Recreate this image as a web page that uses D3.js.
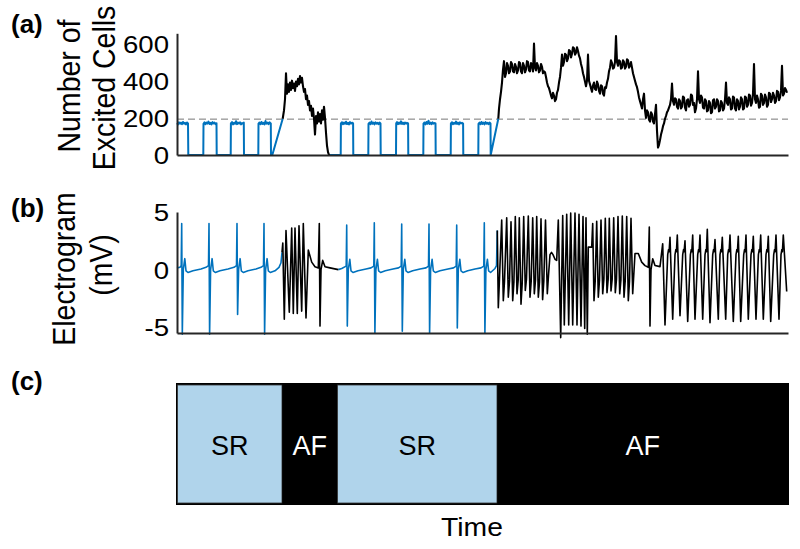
<!DOCTYPE html>
<html><head><meta charset="utf-8">
<script src="https://cdn.jsdelivr.net/npm/d3@7"></script>
<style>
body{margin:0;background:#fff}
svg{display:block}
text{font-family:"Liberation Sans",Arial,Helvetica,sans-serif;fill:#000}
</style>
</head><body>
<svg id="chart" width="800" height="549"></svg>
<script>
// ---------- DATA (time in arbitrary units, 0..611) ----------
const cellTicks = [0, 200, 400, 600];
const egmTicks = [-5, 0, 5];
const threshold = 193;

// Panel (a): number of excited cells
const srA1 = [[0,172],[1,165],[2,176],[3,168],[4,174],[5,166],[6,178],[7,169],[8,173],[9,165],[10,175],[11,170],[11.3,0],
[26.3,0],[26.5,168],[27.5,176],[28.5,166],[29.5,174],[30.5,169],[31.5,180],[32.5,167],[33.5,173],[34.5,165],[35.5,177],[36.5,170],[37.5,174],[38.5,166],[39.5,171],[39.7,0],
[53.7,0],[53.9,170],[55,177],[56,165],[57,173],[58,168],[59,182],[60,166],[61,174],[62,169],[63,176],[64,165],[65,172],[66,168],[66.8,174],[67,0],
[81.3,0],[81.5,169],[82.5,175],[83.5,166],[84.5,178],[85.5,167],[86.5,173],[87.5,165],[88.5,183],[89.5,169],[90.5,174],[91.5,166],[92.5,176],[93.8,170],[94,0],
[95.3,0],[105.7,195]];
const afA1 = [[105.7,195],[107,240],[108,300],[109,440],[110,330],[111,380],[112,340],[113,390],[114,350],[115,400],[116,360],[117,385],[118,345],[119,395],[120,370],[121,410],[122,380],[123,425],[124,390],[125,415],[126,370],[127,340],[128,355],[129,300],[130,320],[131,270],[132,290],[133,240],[134,265],[135,210],[136,250],[137,195],[138,110],[139,210],[140,170],[141,230],[142,180],[143,220],[144,170],[145,240],[146,190],[147,260],[148,200],[149,120],[150,50],[151,15],[152,0],[153,0]];
const srA2 = [[153,0],[163.7,0],[163.9,170],[165,176],[166,166],[167,174],[168,168],[169,179],[170,167],[171,173],[172,165],[173,177],[174,169],[175,174],[176.1,170],[176.3,0],
[191.3,0],[191.5,168],[192.5,175],[193.5,166],[194.5,180],[195.5,168],[196.5,174],[197.5,165],[198.5,176],[199.5,169],[200.5,173],[201.5,166],[202.5,175],[203.5,170],[203.7,0],
[219,0],[219.2,171],[220,177],[221,166],[222,174],[223,168],[224,181],[225,167],[226,174],[227,166],[228,175],[229,169],[230,173],[231.1,170],[231.3,0],
[246.3,0],[246.5,169],[247.5,175],[248.5,165],[249.5,178],[250.5,168],[251.5,184],[252.5,167],[253.5,174],[254.5,166],[255.5,176],[256.5,169],[257.5,172],[258.5,170],[258.7,0],
[273.7,0],[273.9,170],[275,176],[276,166],[277,173],[278,168],[279,180],[280,167],[281,174],[282,165],[283,176],[284,170],[285,173],[286.1,169],[286.3,0],
[301.3,0],[301.5,168],[302.5,175],[303.5,166],[304.5,178],[305.5,167],[306.5,174],[307.5,165],[308.5,177],[309.5,169],[310.5,173],[311.5,166],[312.5,175],[313.5,170],[313.7,0],
[321.3,195]];
const afA2 = [[321.3,195],[322,250],[323,300],[324,340],[325,390],[326,460],[327,505],[328,420],[329,440],[330,495],[331,480],[332,440],[333,450],[334,500],[335,490],[336,450],[337,445],[338,490],[339,475],[340,440],
[341,455],[342,500],[343,495],[344,450],[345,440],[346,495],[347,480],[348,445],[349,460],[350,505],[351,500],[352,455],[353,450],[354,495],[355,485],[356,450],[357,600],[358,470],[359,455],[360,495],
[361,480],[362,445],[363,455],[364,490],[365,475],[366,440],[367,450],[368,445],[369,420],[370,390],[371,370],[372,360],[373,340],[374,320],[375,305],[376,335],[377,320],[378,290],[379,300],[380,335],
[381,350],[382,390],[383,420],[384,470],[385,540],[386,480],[387,500],[388,545],[389,540],[390,505],[391,520],[392,565],[393,560],[394,525],[395,545],[396,580],[397,575],[398,540],[399,550],[400,580],
[401,560],[402,535],[403,520],[404,490],[405,470],[406,440],[407,420],[408,395],[409,370],[410,400],[411,540],[412,400],[413,380],[414,360],[415,340],[416,375],[417,390],[418,355],[419,350],[420,395],
[421,380],[422,345],[423,330],[424,375],[425,370],[426,330],[427,320],[428,365],[429,360],[430,390],[431,410],[432,450],[433,470],[434,510],[435,495],[436,465],[437,470],[438,500],[439,640],[440,500],
[441,480],[442,510],[443,505],[444,465],[445,470],[446,510],[447,500],[448,465],[449,475],[450,515],[451,510],[452,470],[453,480],[454,500],[455,470],[456,440],[457,420],[458,400],[459,380],[460,365],
[461,340],[462,310],[463,290],[464,270],[465,250],[466,300],[467,330],[468,240],[469,200],[470,240],[471,230],[472,190],[473,180],[474,230],[475,220],[476,180],[477,170],[478,220],[479,270],[480,130],
[481,40],[482,55],[483,80],[484,110],[485,130],[486,155],[487,170],[488,195],[489,210],[490,230],[491,240],[492,255],[493,270],[494,300],[495,385],[496,290],[497,270],[498,305],[499,300],[500,260],
[501,250],[502,300],[503,290],[504,250],[505,260],[506,315],[507,310],[508,255],[509,240],[510,295],[511,300],[512,260],[513,270],[514,325],[515,320],[516,270],[517,280],[518,230],[519,250],[520,300],
[521,450],[522,300],[523,280],[524,320],[525,310],[526,255],[527,250],[528,300],[529,290],[530,235],[531,240],[532,290],[533,280],[534,225],[535,230],[536,295],[537,300],[538,250],[539,260],[540,300],
[541,290],[542,235],[543,240],[544,290],[545,280],[546,240],[547,250],[548,300],[549,390],[550,280],[551,270],[552,310],[553,300],[554,245],[555,250],[556,315],[557,310],[558,250],[559,240],[560,300],
[561,290],[562,245],[563,260],[564,310],[565,300],[566,245],[567,250],[568,315],[569,310],[570,260],[571,270],[572,325],[573,320],[574,265],[575,280],[576,330],[577,490],[578,300],[579,280],[580,320],
[581,300],[582,255],[583,260],[584,330],[585,320],[586,270],[587,280],[588,325],[589,310],[590,260],[591,270],[592,335],[593,330],[594,285],[595,300],[596,335],[597,320],[598,280],[599,290],[600,345],
[601,340],[602,295],[603,310],[604,345],[605,480],[606,320],[607,330],[608,360],[609,350],[610,335]];

// Panel (b): electrogram (mV)
const srB1 = [[0,0.15],[3,0.2],[4.2,0.35],[4.7,4.0],[5.3,-5.6],[6.3,0.0],[7.8,0.95],[9,-0.1],[11,-0.25],[16,-0.1],[24,0.05],[29,0.2],[31.5,0.35],
[32,4.0],[32.6,-5.6],[33.6,0.0],[35.1,0.95],[36.3,-0.1],[38.3,-0.25],[43,-0.1],[51,0.05],[57,0.2],[59.5,0.35],
[60,4.0],[60.6,-3.9],[61.6,0.0],[63.1,0.95],[64.3,-0.1],[66.3,-0.25],[71,-0.1],[79,0.05],[84,0.2],[86.5,0.35],
[87,4.0],[87.6,-5.6],[88.6,0.0],[90.1,0.95],[91.3,-0.1],[93.3,-0.25],[98,-0.1],[102,0.2],[104,0.6],[105,1.5]];
const afB1 = [[105,1.5],[105.8,2.3],[107.3,-4.3],[109,3.4],[112.3,-3.7],[114.7,3.6],[116.3,-3.8],[118,3.6],[120.3,-3.8],[122,3.8],[124.7,-3.6],[126.3,4.0],[129,-4.2],[131.3,1.7],[134.7,0.65],[138,0.25],[141.3,0.15],[142.3,4.0],[143,-4.9],[144,0.0],[145.7,0.8],[148,0.25],[153,0.15],[161.3,0.0]];
const srB2 = [[161.3,0.0],[164.7,0.1],[169.2,0.3],[169.7,3.86],[170.3,-4.9],[171.3,0.0],[172.8,0.9],[174,-0.1],[176,-0.25],[181,-0.1],[189,0.05],[194,0.15],[196.8,0.3],
[197.3,4.06],[197.9,-5.5],[198.9,0.0],[200.4,0.9],[201.6,-0.1],[203.6,-0.25],[208.3,-0.1],[216,0.05],[221.5,0.15],[224.2,0.3],
[224.7,3.95],[225.3,-5.35],[226.3,0],[227.8,0.9],[229,-0.1],[231,-0.25],[235.7,-0.1],[243,0.05],[249,0.15],[251.5,0.3],
[252,3.95],[252.6,-5.5],[253.6,0],[255.1,0.9],[256.3,-0.1],[258.3,-0.25],[263,-0.1],[271,0.05],[276.5,0.15],[279.2,0.3],
[279.7,3.86],[280.3,-5.06],[281.3,0],[282.8,0.9],[284,-0.1],[286,-0.25],[290.7,-0.1],[298,0.05],[304,0.15],[306.8,0.3],
[307.3,4.06],[307.9,-5.5],[308.9,0],[310.4,0.9],[311.6,-0.1],[313.6,-0.25],[318,0.1],[319.5,0.35],[320.3,3.4]];
const afB2 = [[320.3,3.4],[321.3,-3.3],[322.3,-1.2],[324.7,4.3],[326.3,-2.7],[327.5,-1.0],[329.7,4.5],[331.3,-2.4],[332.5,-1.0],[334,4.15],[335.7,-2.7],[336.9,-1.1],[338.3,4.6],[340,-2.1],[341.2,-0.9],[342.3,4.5],[344,-3.0],[345.2,-1.2],[346.7,4.6],[348.3,-1.8],[349.5,-0.8],[351.3,4.65],[353,-2.4],[354.2,-1.0],[355.7,4.5],[357.3,-2.1],[358.5,-0.9],[359.7,4.6],[361.3,-2.4],[362.5,-1.1],
[364,4.4],[365.6,-2.6],[366.8,-1.0],[368.5,4.3],[370.3,-2.1],[371.5,-0.5],[373,1.3],[374.5,1.5],[376,1.3],[378,0.9],[379.7,0.8],
[381.3,4.3],[383.7,-5.9],[385.7,4.7],[387.3,-4.8],[389.7,4.8],[391.7,-4.8],[393.7,4.9],[395.7,-4.8],[398,4.9],[400,-4.8],[402,4.8],[404,-4.9],[406,4.6],[407.7,-5.1],[409,4.5],[410.3,-5.6],
[411.3,1.95],[414.7,1.95],
[415.7,4.0],[417,-2.7],[418.2,-1.0],[419.7,4.2],[421.3,-2.4],[422.5,-0.9],[424,4.3],[425.7,-2.1],[426.9,-0.8],[428.3,4.45],[430,-2.0],[431.2,-0.8],[432.3,4.45],[434,-1.85],[435.2,-0.8],[436.7,4.5],[438.3,-2.0],[439.5,-0.8],[441,4.6],[442.7,-2.1],[443.9,-0.9],[445.3,4.65],[447,-2.4],[448.2,-1.0],[449.7,4.6],[451.3,-2.7],[452.5,-1.0],[454,4.45],[455.7,-2.1],
[458,1.4],[461.3,1.4],[464.7,0.65],[468,0.35],[471.3,0.2],[472.3,3.7],[473,-4.9],[474,0.0],[475.7,0.94],[478,0.35],[483,0.26],
[485.7,2.25],[488,-4.8],
[490.7,1.3],[491.6,1.75],[492.1,1.55],[493,2.8],[495.7,-4.3],
[498,1.3],[498.9,1.75],[499.4,1.55],[500.3,3.0],[503,-4.0],
[505.7,1.3],[506.6,1.75],[507.1,1.55],[508,2.5],[510.7,-4.5],
[513.4,1.3],[514.3,1.75],[514.8,1.55],[515.7,3.0],[518,-4.3],
[520.7,1.3],[521.6,1.75],[522.1,1.55],[523,3.0],[525.7,-4.3],
[528,1.3],[528.9,1.75],[529.4,1.55],[530.3,3.5],[533,-4.6],
[535.7,1.3],[536.6,1.75],[537.1,1.55],[538,2.6],[541.3,-4.3],
[543,1.3],[543.9,1.75],[544.4,1.55],[545.3,2.8],[548.7,-4.3],
[550.7,1.3],[551.6,1.75],[552.1,1.55],[553,3.0],[556.3,-4.5],
[559,1.3],[559.9,1.75],[560.4,1.55],[561.3,2.9],[563.7,-4.5],
[566.7,1.3],[567.6,1.75],[568.1,1.55],[569,3.0],[571.3,-4.3],
[574,1.3],[574.9,1.75],[575.4,1.55],[576.3,2.9],[579,-4.3],
[581.4,1.3],[582.3,1.75],[582.8,1.55],[583.7,3.0],[586.3,-4.3],
[589,1.3],[589.9,1.75],[590.4,1.55],[591.3,2.9],[593.7,-4.5],
[596.7,1.3],[597.6,1.75],[598.1,1.55],[599,3.0],[602,-4.3],
[604,1.3],[604.9,1.75],[605.4,1.55],[606.3,3.0],[609.7,-1.9]];

// Panel (c): rhythm classification
const rhythmLabels = ["SR", "AF", "SR", "AF"];
const rhythmStart = [0, 105.5, 160, 320.5];
const rhythmEnd = [105.5, 160, 320.5, 611];

// ---------- DRAWING ----------
const svg = d3.select("#chart");
const BLUE = "#0072BD", AX = "#262626";
const x = d3.scaleLinear().domain([0, 611]).range([177, 788]);
const yA = d3.scaleLinear().domain([0, 655]).range([155, 33.3]);
const yB = d3.scaleLinear().domain([-5.5, 5]).range([333, 212]);

function styleAxis(g) {
  g.select(".domain").attr("stroke", AX).attr("stroke-width", 2);
  g.selectAll(".tick line").remove();
  g.selectAll(".tick text").attr("x", null).attr("dy", null)
    .attr("transform", "translate(-8,8.6) scale(1.15,1)")
    .style("font-size", "24px").attr("fill", "#000");
}

// Panel (a)
svg.append("line").attr("x1", x(0)).attr("x2", x(611)).attr("y1", yA(threshold)).attr("y2", yA(threshold))
  .attr("stroke", "#777").attr("stroke-width", 1).attr("stroke-dasharray", "7,4");
const lineA = d3.line().x(d => x(d[0])).y(d => yA(d[1]));
[[srA1, BLUE], [srA2, BLUE], [afA1, "#000"], [afA2, "#000"]].forEach(([d, c]) => {
  svg.append("path").datum(d).attr("d", lineA).attr("fill", "none").attr("stroke", c)
    .attr("stroke-width", c === BLUE ? 2.0 : 2.1).attr("stroke-linejoin", "round");
});
svg.append("g").attr("transform", `translate(${x(0)},0)`)
  .call(d3.axisLeft(yA).tickValues(cellTicks).tickSizeOuter(0)).call(styleAxis);
svg.append("g").attr("transform", `translate(0,${yA(0)})`)
  .call(d3.axisBottom(x).tickValues([]).tickSizeOuter(0)).call(g => g.select(".domain").attr("stroke", AX).attr("stroke-width", 2));

// Panel (b)
const lineB = d3.line().x(d => x(d[0])).y(d => yB(d[1]));
[[srB1, BLUE], [srB2, BLUE], [afB1, "#000"], [afB2, "#000"]].forEach(([d, c]) => {
  svg.append("path").datum(d).attr("d", lineB).attr("fill", "none").attr("stroke", c)
    .attr("stroke-width", 1.6).attr("stroke-linejoin", "round");
});
svg.append("g").attr("transform", `translate(${x(0)},0)`)
  .call(d3.axisLeft(yB).tickValues(egmTicks).tickSizeOuter(0).tickFormat(d => String(d))).call(styleAxis);
svg.append("g").attr("transform", `translate(0,${yB(-5.5)})`)
  .call(d3.axisBottom(x).tickValues([]).tickSizeOuter(0)).call(g => g.select(".domain").attr("stroke", AX).attr("stroke-width", 2));

// Panel (c)
const cTop = 384, cBot = 504;
svg.append("rect").attr("x", x(0) - 1).attr("y", cTop - 1).attr("width", x(611) - x(0) + 2).attr("height", cBot - cTop + 2)
  .attr("fill", "#000");
rhythmLabels.forEach((lab, i) => {
  const sr = lab === "SR";
  svg.append("rect").attr("x", x(rhythmStart[i]) + (sr ? 0.5 : 0)).attr("y", cTop + (sr ? 1 : 0))
    .attr("width", x(rhythmEnd[i]) - x(rhythmStart[i]) - (sr ? 1 : 0)).attr("height", cBot - cTop - (sr ? 2 : 0))
    .attr("fill", sr ? "#b0d4eb" : "#000").attr("stroke", sr ? "#333" : "none").attr("stroke-width", 0.8);
  svg.append("text").attr("text-anchor", "middle")
    .attr("transform", `translate(${(x(rhythmStart[i]) + x(rhythmEnd[i])) / 2},455)`)
    .style("font-size", "27px").style("fill", sr ? "#000" : "#fff").text(lab);
});
svg.append("text").attr("text-anchor", "middle").attr("transform", "translate(472,536) scale(1.11,1)")
  .style("font-size", "25.5px").text("Time");

// Axis titles
function vtitle(txt, bx, cy) {
  svg.append("text").attr("text-anchor", "middle")
    .attr("transform", `translate(${bx},${cy}) scale(1.1,1) rotate(-90)`)
    .style("font-size", "28.5px").text(txt);
}
vtitle("Number of", 80, 86);
vtitle("Excited Cells", 115, 88);
vtitle("Electrogram", 75, 269);
vtitle("(mV)", 112, 265);

// Panel labels
[["(a)", 33], ["(b)", 217], ["(c)", 390]].forEach(([t, y]) => {
  svg.append("text").attr("x", 11).attr("y", y).style("font-size", "26px").style("font-weight", "bold").text(t);
});
</script>
</body></html>
